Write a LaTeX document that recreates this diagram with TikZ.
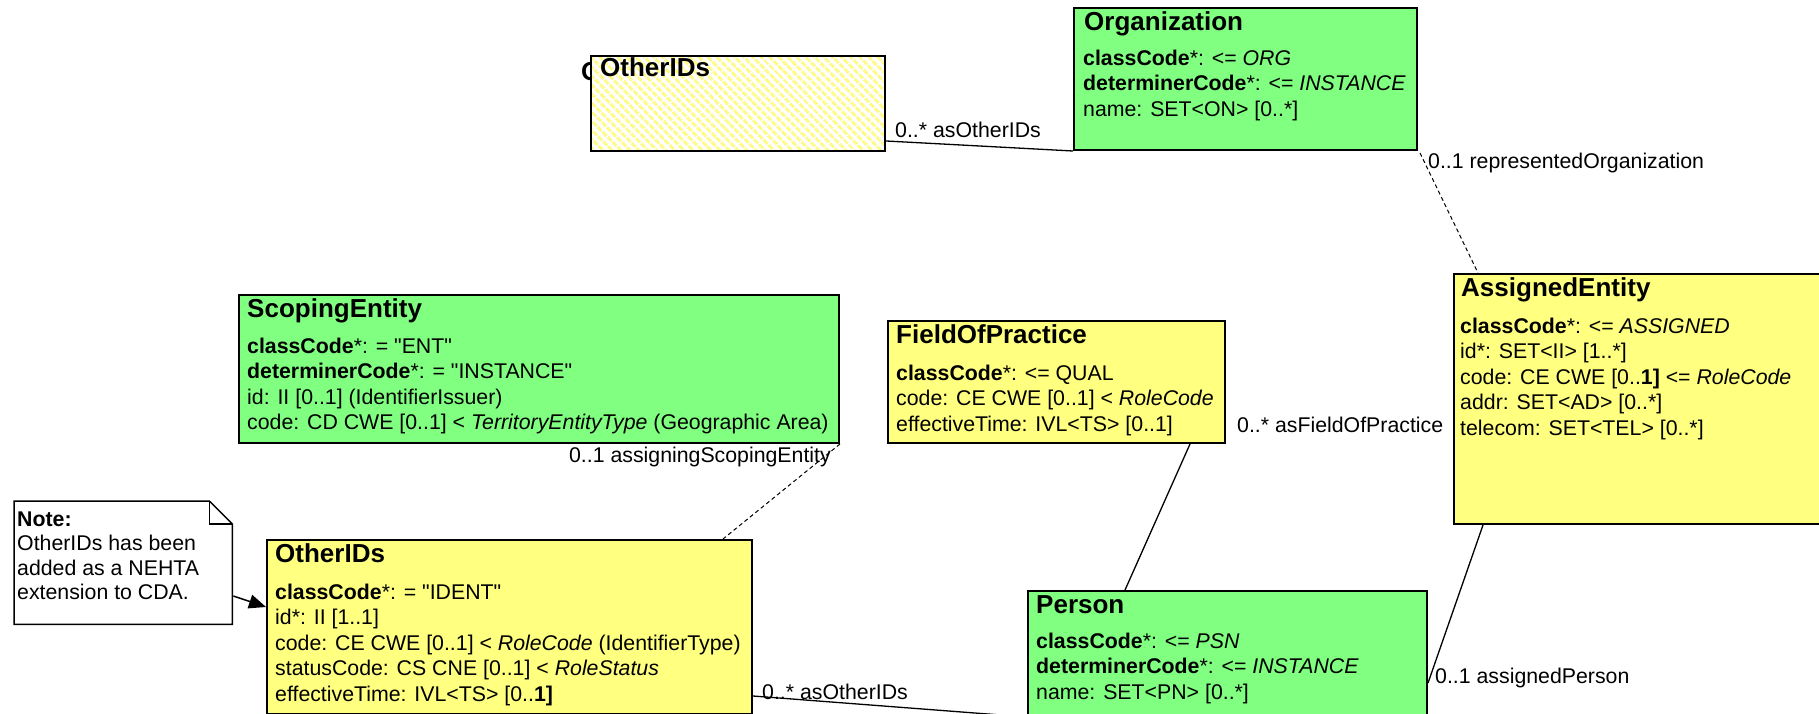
\documentclass[tikz,border=0pt]{standalone}
\usepackage{fontspec}
\setmainfont{Liberation Sans}[Ligatures=TeXOff]
\usetikzlibrary{calc,arrows.meta,patterns.meta}
\definecolor{umlgreen}{RGB}{128,255,128}
\definecolor{umlyellow}{RGB}{255,255,128}
\definecolor{hatchyellow}{RGB}{255,250,140}
\tikzset{
  clsbox/.style={draw=black, line width=2pt, rectangle, inner sep=0pt, anchor=north west},
  ttl/.style={font=\fontsize{26}{30}\selectfont\bfseries, inner sep=0pt, anchor=base west},
  bodytxt/.style={font=\fontsize{21.3}{25.5}\selectfont, inner sep=0pt, anchor=north west, align=left},
  lbl/.style={font=\fontsize{21.3}{25.5}\selectfont, inner sep=0pt},
  assoc/.style={draw=black, line width=1.3pt},
  dassoc/.style={draw=black, line width=1pt, dash pattern=on 4pt off 3pt},
}
\newcommand{\fr}{\rule{0pt}{17pt}}
\begin{document}
\begin{tikzpicture}[x=1pt,y=-1pt]
\useasboundingbox (0,0) rectangle (1819,714);
\clip (0,0) rectangle (1819,714);
\fill[white] (0,0) rectangle (1819,714);

% hidden title fragment behind the hatched box
\node[ttl] (oidHid) at (581,81) {OtherIDs};

% boxes
\node[clsbox, preaction={fill=white}, pattern={Lines[angle=-45,distance=6.5pt,line width=3.2pt]}, pattern color=hatchyellow, minimum width=294pt, minimum height=95pt] (oidT) at (589,54) {};
\node[clsbox, fill=umlgreen, minimum width=343pt, minimum height=142pt] (org) at (1073,7) {};
\node[clsbox, fill=umlyellow, minimum width=420pt, minimum height=250pt] (ase) at (1453,273) {};
\node[clsbox, fill=umlgreen, minimum width=600pt, minimum height=148pt] (sco) at (238,294) {};
\node[clsbox, fill=umlyellow, minimum width=337pt, minimum height=122pt] (fop) at (887,320) {};
\node[clsbox, fill=umlyellow, minimum width=485pt, minimum height=174pt] (oidB) at (266,539) {};
\node[clsbox, fill=umlgreen, minimum width=399pt, minimum height=200pt] (per) at (1027,590) {};

% note
\node[rectangle, inner sep=0pt, anchor=north west, minimum width=218pt, minimum height=123pt] (note) at (14,501) {};
\draw[line width=1.5pt, fill=white] (note.north west) -- ($(note.north east)+(-23,0)$) -- ($(note.north east)+(0,23)$) -- (note.south east) -- (note.south west) -- cycle;
\draw[line width=1.5pt] ($(note.north east)+(-23,0)$) -- ($(note.north east)+(-23,23)$) -- ($(note.north east)+(0,23)$);
\node[font=\fontsize{21.3}{24.5}\selectfont, inner sep=0pt, anchor=north west, align=left] (noteT) at ($(note.north west)+(3,25-17)$) {\fr\textbf{Note:}\\OtherIDs has been\\added as a NEHTA\\extension to CDA.};

% titles
\node[ttl] (oidTt) at ($(oidT.north west)+(11,23)$) {OtherIDs};
\node[ttl] (orgT) at ($(org.north west)+(11,24)$) {Organization};
\node[ttl] (aseT) at ($(ase.north west)+(8,23.5)$) {AssignedEntity};
\node[ttl] (scoT) at ($(sco.north west)+(9,23.5)$) {ScopingEntity};
\node[ttl] (fopT) at ($(fop.north west)+(9,23.5)$) {FieldOfPractice};
\node[ttl] (oidBt) at ($(oidB.north west)+(9,23.5)$) {OtherIDs};
\node[ttl] (perT) at ($(per.north west)+(9,23.5)$) {Person};

% bodies
\node[bodytxt] (orgB) at ($(org.north west)+(10,58-17)$) {\fr\textbf{classCode}*: <= \textit{ORG}\\\textbf{determinerCode}*: <= \textit{INSTANCE}\\name: SET<ON> [0..*]};
\node[bodytxt] (aseB) at ($(ase.north west)+(7,60-17)$) {\fr\textbf{classCode}*: <= \textit{ASSIGNED}\\id*: SET<II> [1..*]\\code: CE CWE [0..\textbf{1]} <= \textit{RoleCode}\\addr: SET<AD> [0..*]\\telecom: SET<TEL> [0..*]};
\node[bodytxt] (scoB) at ($(sco.north west)+(9,59-17)$) {\fr\textbf{classCode}*: = "ENT"\\\textbf{determinerCode}*: = "INSTANCE"\\id: II [0..1] (IdentifierIssuer)\\code: CD CWE [0..1] < \textit{TerritoryEntityType} (Geographic Area)};
\node[bodytxt] (fopB) at ($(fop.north west)+(9,60-17)$) {\fr\textbf{classCode}*: <= QUAL\\code: CE CWE [0..1] < \textit{RoleCode}\\effectiveTime: IVL<TS> [0..1]};
\node[bodytxt] (oidBb) at ($(oidB.north west)+(9,60-17)$) {\fr\textbf{classCode}*: = "IDENT"\\id*: II [1..1]\\code: CE CWE [0..1] < \textit{RoleCode} (IdentifierType)\\statusCode: CS CNE [0..1] < \textit{RoleStatus}\\effectiveTime: IVL<TS> [0..\textbf{1]}};
\node[bodytxt] (perB) at ($(per.north west)+(9,58-17)$) {\fr\textbf{classCode}*: <= \textit{PSN}\\\textbf{determinerCode}*: <= \textit{INSTANCE}\\name: SET<PN> [0..*]};

% connectors
\draw[assoc] ($(oidT.north east)+(0,87)$) -- (org.south west);
\draw[dassoc] ($(org.south east)+(2,2)$) -- ($(ase.north west)+(25,0)$);
\draw[dassoc] (sco.south east) -- ($(oidB.north west)+(457,0)$);
\draw[assoc] ($(fop.south east)+(-36,0)$) -- ($(per.north west)+(98,0)$);
\draw[assoc] ($(ase.south west)+(30,0)$) -- ($(per.north east)+(0,93)$);
\draw[assoc] ($(oidB.north east)+(0,157)$) -- ($(per.north west)+(0,127)$);
\draw[line width=1.5pt, -{Triangle[length=17pt,width=14pt]}] ($(note.north east)+(1,95)$) -- ($(oidB.north west)+(0,68)$);

% labels
\node[lbl, anchor=base west] (l1) at (895,138) {0..* asOtherIDs};
\node[lbl, anchor=base west] (l2) at (1428,168) {0..1 representedOrganization};
\node[lbl, anchor=base east] (l3) at (831,462) {0..1 assigningScopingEntity};
\node[lbl, anchor=base west] (l4) at (1237,432) {0..* asFieldOfPractice};
\node[lbl, anchor=base west] (l5) at (1435,683) {0..1 assignedPerson};
\node[lbl, anchor=base west] (l6) at (762,699) {0..* asOtherIDs};
\end{tikzpicture}
\end{document}
